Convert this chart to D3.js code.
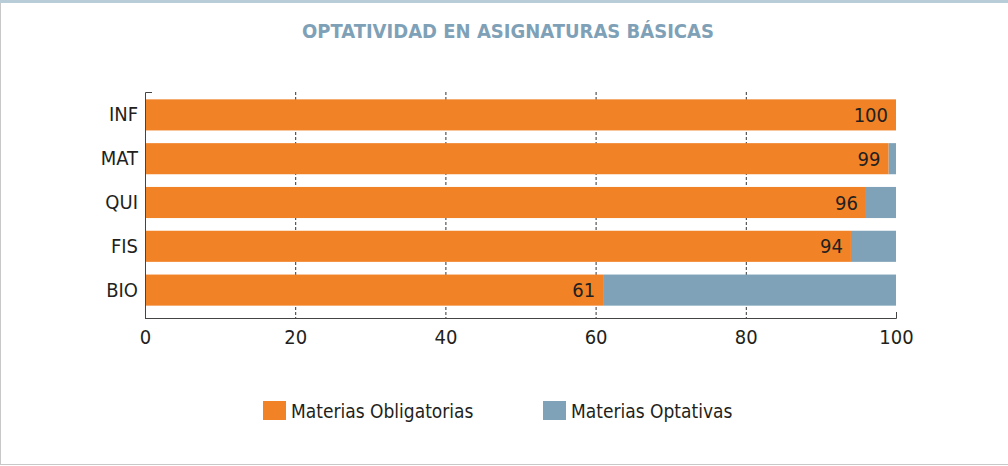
<!DOCTYPE html>
<html>
<head>
<meta charset="utf-8">
<script src="https://cdn.jsdelivr.net/npm/d3@7"></script>
<style>
  body { margin: 0; background: #fff; }
  svg text { font-family: "DejaVu Sans Condensed", "Liberation Sans Narrow", sans-serif; }
</style>
</head>
<body>
<div id="chart"></div>
<script>
// datos ------------------------------------------
const categorias = ["INF", "MAT", "QUI", "FIS", "BIO"];
const obligatorias = [100, 99, 96, 94, 61];
const optativas = [0, 1, 4, 6, 39];
const ticksX = [0, 20, 40, 60, 80, 100];
const series = ["Materias Obligatorias", "Materias Optativas"];
const colores = ["#f28226", "#7fa2b8"];

const W = 1008, H = 466;
const fuente = "DejaVu Sans Condensed, Liberation Sans Narrow, sans-serif";
const svg = d3.select("#chart").append("svg").attr("width", W).attr("height", H);

// marco
svg.append("rect").attr("x", 0.5).attr("y", 1).attr("width", W + 5).attr("height", H - 2.5)
  .attr("fill", "none").attr("stroke", "#c8c8c8");
svg.append("line").attr("x1", 0).attr("x2", W).attr("y1", 1.5).attr("y2", 1.5)
  .attr("stroke", "#b9cdd9").attr("stroke-width", 3);

// titulo
svg.append("text").attr("x", 508).attr("y", 38).attr("text-anchor", "middle")
  .attr("fill", "#7fa1b7").attr("font-size", "20px").attr("font-weight", "bold")
  .text("OPTATIVIDAD EN ASIGNATURAS BÁSICAS");

// escalas
const x = d3.scaleLinear().domain([0, 100]).range([145, 896]);
const y = d3.scaleBand().domain(categorias).range([93, 312]).paddingInner(0.29).paddingOuter(0.145);

// rejilla
svg.append("g").selectAll("line").data(ticksX.slice(1, -1)).join("line")
  .attr("x1", d => x(d) + 0.5).attr("x2", d => x(d) + 0.5)
  .attr("y1", 92).attr("y2", 318)
  .attr("stroke", "#333").attr("stroke-width", 1).attr("stroke-dasharray", "3,2");

const filas = categorias.map((c, i) => ({ c, ob: obligatorias[i], op: optativas[i] }));

// barras optativas (apiladas a la derecha)
svg.append("g").selectAll("rect").data(filas).join("rect")
  .attr("x", d => x(d.ob)).attr("y", d => y(d.c))
  .attr("width", d => x(d.ob + d.op) - x(d.ob)).attr("height", y.bandwidth())
  .attr("fill", colores[1]);

// barras obligatorias
svg.append("g").selectAll("rect").data(filas).join("rect")
  .attr("x", x(0)).attr("y", d => y(d.c))
  .attr("width", d => x(d.ob) - x(0)).attr("height", y.bandwidth())
  .attr("fill", colores[0]);

// etiquetas de valor
svg.append("g").selectAll("text").data(filas).join("text")
  .attr("x", d => x(d.ob) - 8).attr("y", d => y(d.c) + y.bandwidth() / 2 + 7)
  .attr("text-anchor", "end").attr("font-size", "20px").attr("fill", "#231f20")
  .text(d => d.ob);

// eje Y
const ejeY = svg.append("g").attr("transform", "translate(145,0)")
  .call(d3.axisLeft(y).tickSize(0).tickPadding(7));
ejeY.select(".domain").remove();
ejeY.selectAll("text").attr("font-size", "20px").attr("fill", "#231f20").attr("font-family", fuente);
svg.append("path").attr("d", "M152,92.5H145.5V318").attr("fill", "none").attr("stroke", "#444");

// eje X
const ejeX = svg.append("g").attr("transform", "translate(0,318)")
  .call(d3.axisBottom(x).tickValues(ticksX).tickSize(0).tickPadding(12));
ejeX.select(".domain").attr("stroke", "#444").attr("d", "M145,0.5H896.5V-6");
ejeX.selectAll("text").attr("font-size", "20px").attr("fill", "#231f20").attr("font-family", fuente);

// leyenda
const leyenda = svg.append("g");
const posLeyenda = [263, 543];
series.forEach((s, i) => {
  leyenda.append("rect").attr("x", posLeyenda[i]).attr("y", 401).attr("width", 23).attr("height", 19)
    .attr("fill", colores[i]);
  leyenda.append("text").attr("x", posLeyenda[i] + 28).attr("y", 418)
    .attr("font-size", "19px").attr("fill", "#231f20").text(s);
});
</script>
</body>
</html>
